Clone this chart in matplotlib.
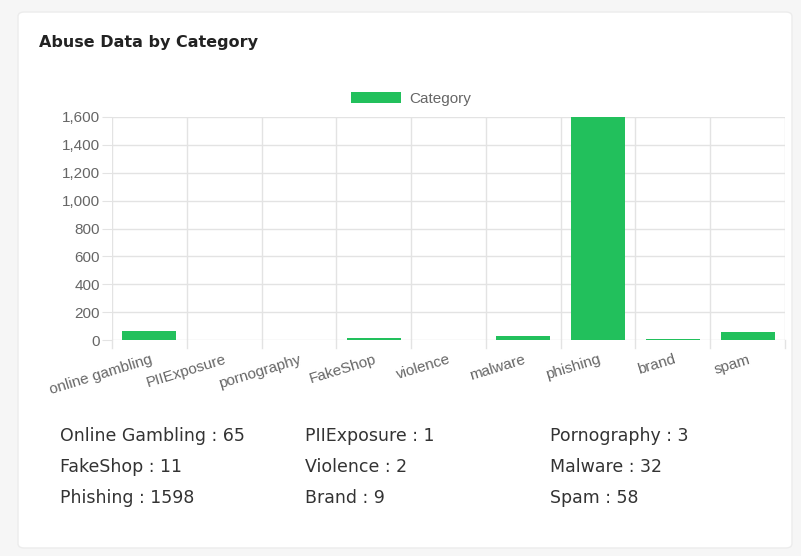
import matplotlib.pyplot as plt
from matplotlib.patches import FancyBboxPatch

# data
categories = ["online gambling", "PIIExposure", "pornography", "FakeShop",
              "violence", "malware", "phishing", "brand", "spam"]
values = [65, 1, 3, 11, 2, 32, 1598, 9, 58]
summary_labels = ["Online Gambling", "PIIExposure", "Pornography",
                  "FakeShop", "Violence", "Malware",
                  "Phishing", "Brand", "Spam"]
yticks = [0, 200, 400, 600, 800, 1000, 1200, 1400, 1600]

green = "#22c05c"
grid_c = "#e3e3e3"
tick_c = "#666666"

W, H = 801, 556
fig = plt.figure(figsize=(W / 100, H / 100), dpi=100)
fig.patch.set_facecolor("#f6f6f6")

# card behind everything
card = FancyBboxPatch((18 / W, 1 - 548 / H), (792 - 18) / W, (548 - 12) / H,
                      boxstyle="round,pad=0,rounding_size=0.008",
                      transform=fig.transFigure, facecolor="white",
                      edgecolor="#ececec", linewidth=1, zorder=-10)
fig.patches.append(card)

fig.text(39 / W, 1 - 42 / H, "Abuse Data by Category", fontsize=11.5,
         fontweight="bold", family="DejaVu Sans", color="#222222", va="center")

ax = fig.add_axes([112 / W, 1 - 340 / H, (785 - 112) / W, (340 - 117) / H])
ax.set_facecolor("none")
ax.set_zorder(5)

x = list(range(len(categories)))
ax.bar(x, values, width=0.72, color=green, label="Category", zorder=3)

ax.set_xlim(-0.5, len(categories) - 0.5)
ax.set_ylim(0, 1600)
ax.set_yticks(yticks)
ax.set_yticklabels([f"{v:,}" for v in yticks], fontsize=11,
                   family="Liberation Sans", color=tick_c)

# vertical grid at category boundaries
for b in [i - 0.5 for i in range(len(categories) + 1)]:
    ax.axvline(b, color=grid_c, linewidth=1, zorder=1)
    ax.plot([b, b], [0, -0.035], transform=ax.get_xaxis_transform(),
            color=grid_c, linewidth=1, clip_on=False)
ax.grid(axis="y", color=grid_c, linewidth=1, zorder=1)
for s in ax.spines.values():
    s.set_visible(False)
ax.tick_params(axis="y", length=7, color=grid_c, pad=1.5)
ax.tick_params(axis="x", length=0, pad=9)

ax.set_xticks(x)
ax.set_xticklabels(categories, rotation=17, ha="right",
                   rotation_mode="anchor", fontsize=11,
                   family="Liberation Sans", color=tick_c)

ax.legend(loc="center", bbox_to_anchor=((411 - 112) / 673, (340 - 99) / 223),
          frameon=False, handlelength=3.3, handleheight=0.75, handletextpad=0.5,
          prop={"family": "Liberation Sans", "size": 11},
          labelcolor=tick_c, borderaxespad=0)

# summary text
col_x = [60, 305, 550]
row_y = [436, 467, 498]
for i, (name, v) in enumerate(zip(summary_labels, values)):
    fig.text(col_x[i % 3] / W, 1 - row_y[i // 3] / H, f"{name} : {v}",
             fontsize=12.5, family="DejaVu Sans", color="#333333", va="center")

fig.savefig("out.png", dpi=100, facecolor=fig.get_facecolor())
